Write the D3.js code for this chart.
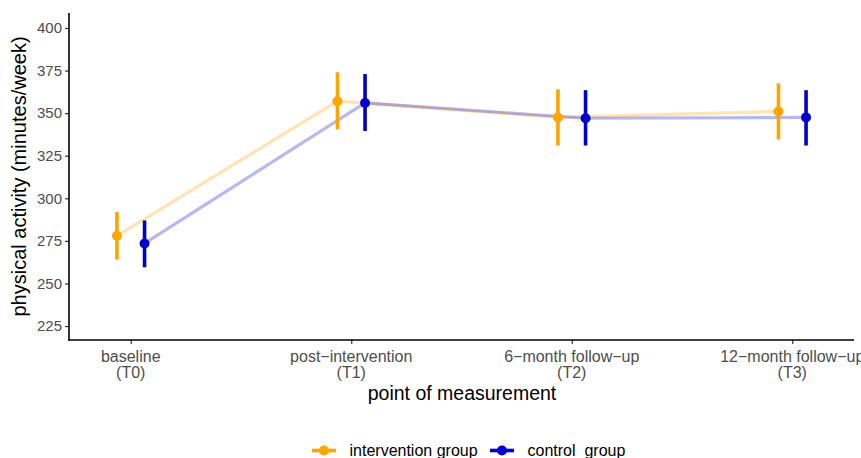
<!DOCTYPE html>
<html><head><meta charset="utf-8">
<script src="https://cdn.jsdelivr.net/npm/d3@7"></script>
<style>body{margin:0;background:#fff}svg{display:block;font-family:"Liberation Sans",Arial,sans-serif}</style>
</head><body><svg id="c" width="861" height="458"></svg>
<script>
const categories = ["baseline\n(T0)", "post\u2212intervention\n(T1)", "6\u2212month follow\u2212up\n(T2)", "12\u2212month follow\u2212up\n(T3)"];
const groups = ["intervention group", "control  group"];
const interventionMean = [278, 357, 347.5, 351];
const interventionLow  = [264, 340.5, 331, 334.5];
const interventionHigh = [292, 374, 364, 367.5];
const controlMean = [273.5, 356, 347, 347.5];
const controlLow  = [259.5, 339.5, 331, 331];
const controlHigh = [287, 373, 363.5, 363.5];
const yTicks = [225, 250, 275, 300, 325, 350, 375, 400];

const colors = ["#FFA500", "#0000CD"];
const series = [
  {name: groups[0], mean: interventionMean, lo: interventionLow, hi: interventionHigh, color: colors[0], off: -1},
  {name: groups[1], mean: controlMean, lo: controlLow, hi: controlHigh, color: colors[1], off: 1}
];

const svg = d3.select("#c");
const L = 69, R = 854, T = 13, B = 340;
const x = d3.scalePoint().domain(categories).range([L, R]).padding(0.28);
const y = d3.scaleLinear().domain([216.8, 408.8]).range([B, T]);
const dodge = 13.8;

// lines
series.forEach(s => {
  const line = d3.line().x((d, i) => x(categories[i]) + s.off * dodge).y(d => y(d));
  svg.append("path").attr("d", line(s.mean)).attr("fill", "none")
    .attr("stroke", s.color).attr("stroke-opacity", s.off < 0 ? 0.3 : 0.28).attr("stroke-width", 3.2);
});
// error bars and points
series.forEach(s => {
  const g = svg.append("g");
  s.mean.forEach((m, i) => {
    const cx = x(categories[i]) + s.off * dodge;
    g.append("line").attr("x1", cx).attr("x2", cx).attr("y1", y(s.lo[i])).attr("y2", y(s.hi[i]))
      .attr("stroke", s.color).attr("stroke-width", 3.6);
    g.append("circle").attr("cx", cx).attr("cy", y(m)).attr("r", 5).attr("fill", s.color);
  });
});

// axes
const yAxis = svg.append("g").attr("transform", `translate(${L},0)`)
  .call(d3.axisLeft(y).tickValues(yTicks).tickSize(4).tickPadding(3));
yAxis.select(".domain").remove();
yAxis.selectAll(".tick line").attr("stroke", "#333").attr("stroke-width", 1.2);
yAxis.selectAll(".tick text").attr("fill", "#4D4D4D").style("font-size", "15px").attr("font-family", null);
svg.append("line").attr("x1", L).attr("x2", L).attr("y1", T).attr("y2", B + 0.8).attr("stroke", "#000").attr("stroke-width", 1.6);

const xAxis = svg.append("g").attr("transform", `translate(0,${B})`)
  .call(d3.axisBottom(x).tickSize(4).tickFormat(""));
xAxis.select(".domain").remove();
xAxis.selectAll(".tick line").attr("stroke", "#333").attr("stroke-width", 1.2);
svg.append("line").attr("x1", L - 0.8).attr("x2", R).attr("y1", B).attr("y2", B).attr("stroke", "#000").attr("stroke-width", 1.6);
categories.forEach(c => {
  const parts = c.split("\n");
  const t = svg.append("text").attr("x", x(c)).attr("y", 361.5).attr("text-anchor", "middle")
    .attr("fill", "#4D4D4D").style("font-size", "16px");
  parts.forEach((p, k) => t.append("tspan").attr("x", x(c)).attr("dy", k ? 16 : 0).text(p));
});

// titles
svg.append("text").attr("x", 462).attr("y", 400).attr("text-anchor", "middle").style("font-size", "19.5px").attr("fill", "#000").text("point of measurement");
svg.append("text").attr("transform", `translate(26,${(T + B) / 2}) rotate(-90)`).attr("text-anchor", "middle")
  .style("font-size", "20px").attr("fill", "#000").text("physical activity (minutes/week)");

// legend
const legX = [312, 490];
series.forEach((s, i) => {
  const lx = legX[i], ly = 450.5;
  svg.append("line").attr("x1", lx).attr("x2", lx + 24).attr("y1", ly).attr("y2", ly).attr("stroke", s.color).attr("stroke-width", 3.6);
  svg.append("circle").attr("cx", lx + 12).attr("cy", ly).attr("r", 5).attr("fill", s.color);
  svg.append("text").attr("x", lx + 37.5).attr("y", ly + 5.5).style("font-size", "16px").attr("fill", "#000")
    .attr("xml:space", "preserve").style("white-space", "pre").text(s.name);
});
</script></body></html>
